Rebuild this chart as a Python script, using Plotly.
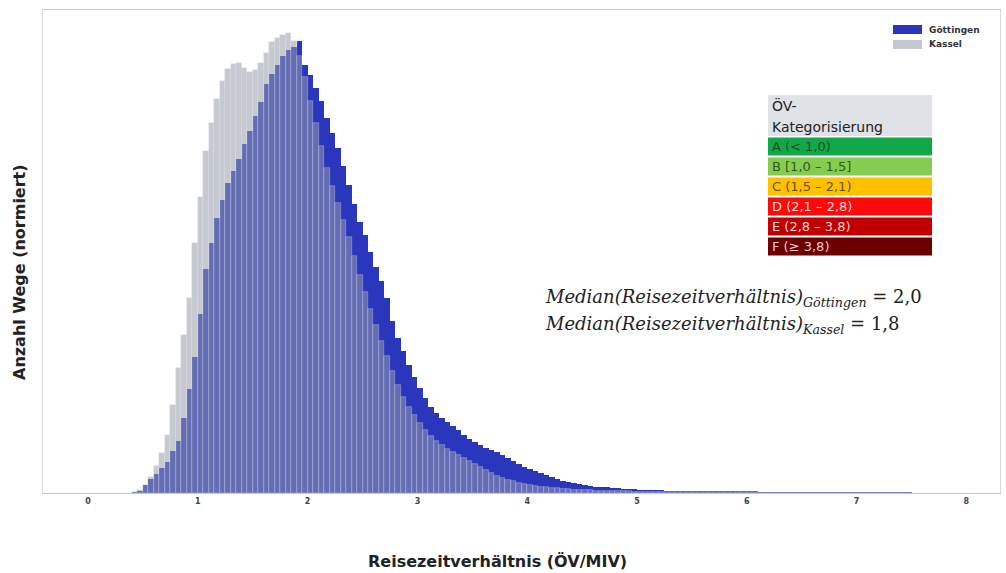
import numpy as np
import plotly.graph_objects as go

# Histogram bins: width 0.05, first bin starts at 0.40
bin_width = 0.05
bin_start = 0.40

# Normalised trip counts per bin (peak = 100)
goettingen = [
    0.2, 0.4, 1.7, 3.0, 4.1, 5.4, 6.7, 9.1, 11.3, 16.3,
    22.6, 29.6, 38.9, 48.7, 54.3, 59.8, 63.7, 67.4, 70.0, 72.6,
    75.9, 78.7, 82.0, 85.0, 88.9, 91.1, 93.0, 95.0, 96.3, 97.0,
    98.3, 93.0, 90.9, 88.0, 85.2, 81.5, 78.3, 75.0, 71.1, 67.0,
    62.8, 58.9, 56.1, 52.4, 49.1, 46.1, 42.4, 37.4, 33.7, 30.9,
    27.8, 25.2, 22.8, 20.7, 18.7, 17.4, 16.3, 15.4, 14.6, 13.7,
    12.6, 11.7, 11.1, 10.4, 9.8, 9.3, 8.9, 8.3, 7.6, 7.0,
    6.3, 5.7, 5.2, 4.8, 4.3, 3.9, 3.5, 3.0, 2.6, 2.4,
    2.2, 2.0, 1.7, 1.5, 1.4, 1.3, 1.2, 1.1, 1.0, 0.9,
    0.85, 0.8, 0.72, 0.67, 0.63, 0.59, 0.55, 0.52, 0.50, 0.48,
    0.46, 0.44, 0.41, 0.39, 0.37, 0.35, 0.33, 0.31, 0.29, 0.27,
    0.26, 0.24,
    0.23, 0.22, 0.21, 0.20, 0.19, 0.18, 0.17, 0.17, 0.16, 0.15,
    0.15, 0.14, 0.13, 0.13, 0.12, 0.12, 0.11, 0.11, 0.10, 0.10,
    0.09, 0.09, 0.08, 0.08, 0.08, 0.07, 0.07, 0.07, 0.06, 0.06,
]

kassel = [
    0.2, 0.7, 1.7, 3.5, 5.9, 8.7, 12.6, 19.1, 27.2, 34.3,
    42.4, 54.3, 64.3, 74.3, 80.4, 85.7, 89.6, 92.2, 93.3, 93.5,
    92.4, 91.5, 92.0, 93.5, 95.7, 98.0, 98.9, 99.6, 100.0, 98.3,
    95.0, 90.4, 85.2, 80.4, 75.4, 70.7, 66.7, 63.0, 59.3, 55.7,
    51.5, 47.4, 43.7, 40.0, 36.5, 33.0, 29.8, 26.5, 23.5, 20.9,
    18.7, 17.0, 15.2, 13.7, 12.4, 11.3, 10.4, 9.6, 8.9, 8.3,
    7.6, 7.0, 6.3, 5.7, 5.0, 4.3, 3.7, 3.3, 2.8, 2.6,
    2.2, 2.0, 1.7, 1.5, 1.35, 1.2, 1.1, 1.0, 0.9, 0.82,
    0.75, 0.68, 0.62, 0.57, 0.52, 0.48, 0.44, 0.41, 0.38, 0.35,
    0.33, 0.31,
    0.29, 0.27, 0.26, 0.25, 0.24, 0.23, 0.22, 0.21, 0.20, 0.19,
    0.18, 0.17, 0.16, 0.16, 0.15, 0.14, 0.14, 0.13, 0.12, 0.12,
    0.11, 0.11, 0.10, 0.10, 0.09, 0.09, 0.09, 0.08, 0.08, 0.08,
    0.07, 0.07, 0.07, 0.06, 0.06, 0.06, 0.06, 0.05, 0.05, 0.05,
    0.05, 0.05, 0.04, 0.04, 0.04, 0.04, 0.04, 0.03, 0.03, 0.03,
]

x_ticks = [0, 1, 2, 3, 4, 5, 6, 7, 8]

categories = ["A (< 1,0)", "B [1,0 – 1,5]", "C (1,5 – 2,1)",
              "D (2,1 – 2,8)", "E (2,8 – 3,8)", "F (≥ 3,8)"]
category_colors = ["#12a84a", "#86cc50", "#ffc000", "#ff0a0a", "#c00000", "#6a0000"]
category_text = ["#1d4d1d", "#2f5a1a", "#6b5000", "#ffd6d6", "#ffd0d0", "#f0c8c8"]

median_goe = "2,0"
median_kas = "1,8"

TITLE_FONT = "DejaVu Sans, Open Sans, sans-serif"


def centers(values):
    return bin_start + bin_width * (np.arange(len(values)) + 0.5)


fig = go.Figure()
fig.add_trace(go.Bar(
    x=centers(goettingen), y=goettingen, width=bin_width,
    name="Göttingen", marker=dict(color="#2a36bc", line=dict(width=0)),
))
fig.add_trace(go.Bar(
    x=centers(kassel), y=kassel, width=bin_width,
    name="Kassel",
    marker=dict(color="rgba(150,156,172,0.54)",
                line=dict(color="rgba(225,228,236,0.55)", width=0.6)),
))

fig.update_layout(
    width=1006, height=573,
    margin=dict(l=43, r=6, t=10, b=80),
    barmode="overlay", bargap=0,
    paper_bgcolor="white", plot_bgcolor="white",
    showlegend=False,
    font=dict(family=TITLE_FONT, color="#333"),
)
fig.update_xaxes(
    range=[-0.41, 8.306], tickvals=x_ticks,
    ticktext=[f"<b>{t}</b>" for t in x_ticks],
    showgrid=False, zeroline=False,
    showline=True, linecolor="#c8c8c8", linewidth=1, mirror=True,
    ticks="", tickfont=dict(size=8, color="#444", family=TITLE_FONT),
)
fig.update_yaxes(
    range=[0, 105], showticklabels=False, showgrid=False, zeroline=False,
    showline=True, linecolor="#d8d8d8", linewidth=1, mirror=True, ticks="",
)


def py(p):
    return 1 - (p - 10) / 483


def px(p):
    return (p - 43) / 957


# Axis titles
fig.add_annotation(xref="paper", yref="paper", x=px(497), y=py(561), yanchor="middle",
                   text="<b>Reisezeitverhältnis (ÖV/MIV)</b>", showarrow=False,
                   font=dict(size=16, color="#222", family=TITLE_FONT))
fig.add_annotation(xref="paper", yref="paper", x=px(19), y=py(272), xanchor="center",
                   yanchor="middle",
                   text="<b>Anzahl Wege (normiert)</b>", showarrow=False, textangle=-90,
                   font=dict(size=16, color="#222", family=TITLE_FONT))

# Series legend
legend_rows = [("Göttingen", "#2a36bc"), ("Kassel", "#c4c8d0")]
for i, (lbl, col) in enumerate(legend_rows):
    top = 25 + i * 15
    fig.add_shape(type="rect", xref="paper", yref="paper",
                  x0=px(893), x1=px(922), y0=py(top + 9), y1=py(top),
                  line=dict(width=0), fillcolor=col)
    fig.add_annotation(xref="paper", yref="paper", x=px(927), y=py(top + 4.5),
                       xanchor="left", yanchor="middle", showarrow=False,
                       text=f"<b>{lbl}</b>", font=dict(size=9, color="#333", family=TITLE_FONT))

# Category table
tx0 = px(768)
tx1 = px(932)
TABLE_FONT = "DejaVu Sans, Liberation Sans, Arial"
fig.add_shape(type="rect", xref="paper", yref="paper", x0=tx0, x1=tx1,
              y0=py(136), y1=py(95), line=dict(width=0), fillcolor="#dfe2e7")
for txt, yc in (("ÖV-", 105), ("Kategorisierung", 127)):
    fig.add_annotation(xref="paper", yref="paper", x=tx0 + 0.002, y=py(yc), xanchor="left",
                       yanchor="middle", showarrow=False, text=txt,
                       font=dict(size=14, color="#222", family=TABLE_FONT))
row_top = 137.5
row_h = 20
for i, (lbl, col, tcol) in enumerate(zip(categories, category_colors, category_text)):
    top = row_top + i * row_h
    fig.add_shape(type="rect", xref="paper", yref="paper", x0=tx0, x1=tx1,
                  y0=py(top + row_h - 2), y1=py(top), line=dict(width=0), fillcolor=col)
    fig.add_annotation(xref="paper", yref="paper", x=tx0 + 0.002,
                       y=py(top + (row_h - 2) / 2), xanchor="left", yanchor="middle",
                       showarrow=False, text=lbl,
                       font=dict(size=13, color=tcol, family=TABLE_FONT))

# Median annotations
med_font = dict(size=18, color="#222", family="DejaVu Serif, serif")
fig.add_annotation(xref="paper", yref="paper", x=px(543), y=py(298),
                   xanchor="left", yanchor="middle", showarrow=False,
                   text=f"<i>Median(Reisezeitverhältnis)</i><sub><i>Göttingen</i></sub> = {median_goe}",
                   font=med_font)
fig.add_annotation(xref="paper", yref="paper", x=px(543), y=py(325),
                   xanchor="left", yanchor="middle", showarrow=False,
                   text=f"<i>Median(Reisezeitverhältnis)</i><sub><i>Kassel</i></sub> = {median_kas}",
                   font=med_font)

fig.write_html("out.html")
